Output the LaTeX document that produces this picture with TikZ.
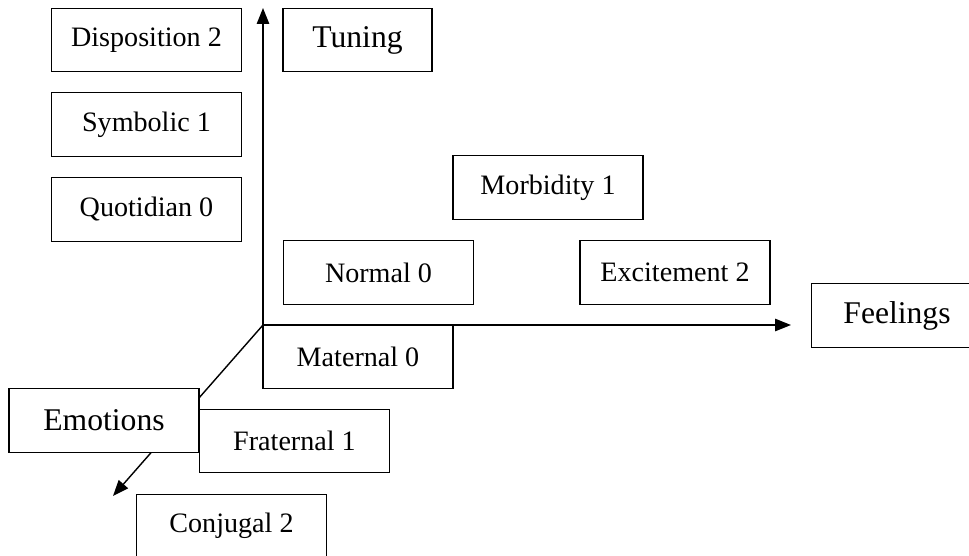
\documentclass[tikz,border=0pt]{standalone}
\usepackage{fontspec}
\setmainfont{Liberation Serif}
\usetikzlibrary{arrows.meta}

\begin{document}
\begin{tikzpicture}[x=0.02cm, y=-0.02cm, line width=0.8pt,
    box/.style={draw, fill=white, inner sep=0pt, minimum width=3.8cm, minimum height=1.27cm,
        font=\fontsize{16}{19}\selectfont},
    bigbox/.style={box, font=\fontsize{18}{22}\selectfont},
    axis/.style={-{Triangle[length=9pt,width=7pt]}}]

\useasboundingbox (0,0) rectangle (969,555);

% axes
\coordinate (o) at (263,325);
\coordinate (ytip) at (263,8);
\coordinate (xtip) at (791,325);
\coordinate (ztip) at (113,496);
\draw[axis] (o) -- (ytip);
\draw[axis] (o) -- (xtip);
\draw[axis] (o) -- (ztip);

% vertical scale
\node[box] (disp) at (146.5,40) {Disposition 2};
\node[box] (symb) at (146.5,124.5) {Symbolic 1};
\node[box] (quot) at (146.5,209.5) {Quotidian 0};
\node[bigbox, minimum width=2.98cm] (tun) at (357.5,40) {Tuning};

% horizontal scale
\node[box] (norm) at (378.5,272.5) {Normal 0};
\node[box] (morb) at (548,187.5) {Morbidity 1};
\node[box] (exc) at (675,272.5) {Excitement 2};
\node[bigbox, minimum width=3.42cm] (feel) at (897,315.5) {Feelings};

% depth scale
\node[box] (mat) at (358,357) {Maternal 0};
\node[bigbox] (emo) at (104,420.5) {Emotions};
\node[box] (frat) at (294.5,441) {Fraternal 1};
\node[box] (conj) at (231.5,526) {Conjugal 2};

\end{tikzpicture}
\end{document}
